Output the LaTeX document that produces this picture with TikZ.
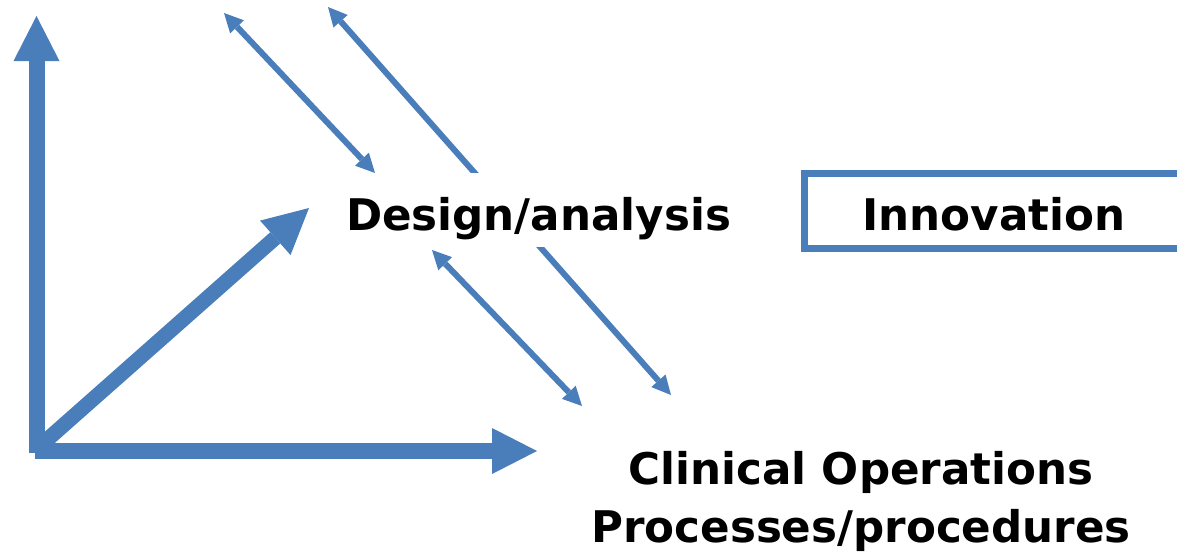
\documentclass[tikz,border=0pt]{standalone}
\usepackage{fontspec}
\setmainfont{DejaVu Sans}
\usetikzlibrary{arrows.meta}
\definecolor{ablue}{RGB}{74,126,187}
\begin{document}
\begin{tikzpicture}[x=1pt,y=-1pt,
  bigarrow/.style={draw=ablue, line width=16pt, -{Triangle[length=45pt,width=46pt,line width=0pt]}},
  thinarrow/.style={draw=ablue, line width=6pt, {Triangle[length=19pt,width=19pt,line width=0pt]}-{Triangle[length=19pt,width=19pt,line width=0pt]}},
  lbl/.style={font=\fontsize{43.6}{52}\selectfont\bfseries, inner sep=0pt, anchor=base}]
\useasboundingbox (0,0) rectangle (1177,552);
\clip (0,0) rectangle (1177,552);
% coordinates
\coordinate (ovl) at (36.5,453);
\coordinate (oh) at (35,451);
\coordinate (up) at (36.5,16);
\coordinate (right) at (537,451);
\coordinate (od) at (40,446);
\coordinate (diag) at (309,208);
\coordinate (a1) at (224,13);
\coordinate (a2) at (375,173);
\coordinate (b1) at (328,7);
\coordinate (b2) at (671,395);
\coordinate (c1) at (432,250);
\coordinate (c2) at (582,406);
% line behind the label
\draw[thinarrow] (b2) -- (b1);
\node[lbl, fill=white, text height=57pt, text depth=17pt] (design) at (538.5,230) {Design/analysis};
% axes
\draw[bigarrow] (ovl) -- (up);
\draw[bigarrow] (oh) -- (right);
\draw[bigarrow, line width=15pt] (od) -- (diag);
% thin arrows
\draw[thinarrow] (a1) -- (a2);
\draw[thinarrow] (c1) -- (c2);
% innovation box
\draw[ablue, line width=7pt] (804,173) rectangle (1195,248);
\node[lbl] (innov) at (994,230) {Innovation};
% bottom labels
\node[lbl] (clin) at (861,484) {Clinical Operations};
\node[lbl] (proc) at (861,542) {Processes/procedures};
\end{tikzpicture}
\end{document}
